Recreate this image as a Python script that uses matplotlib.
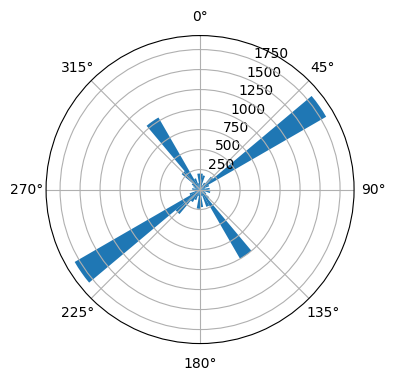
import numpy as np
import matplotlib.pyplot as plt

# bin centres (degrees, compass style) and counts per 10 degree bin
bin_centers = np.arange(5, 360, 10)
counts = [200, 180, 60, 100, 210, 1820, 120, 60, 120, 100, 130, 60,
          90, 150, 1000, 230, 80, 220, 240, 80, 140, 180, 400, 1810,
          140, 60, 90, 100, 60, 90, 120, 300, 1040, 150, 80, 200]

fig = plt.figure(figsize=(5, 4))
ax = fig.add_subplot(111, projection='polar')
ax.set_theta_zero_location('N')
ax.set_theta_direction(-1)

ax.bar(np.deg2rad(bin_centers), counts, width=np.deg2rad(10), color='C0')
ax.set_ylim(0, 1925)

fig.savefig('out.png', dpi=100, bbox_inches='tight')
